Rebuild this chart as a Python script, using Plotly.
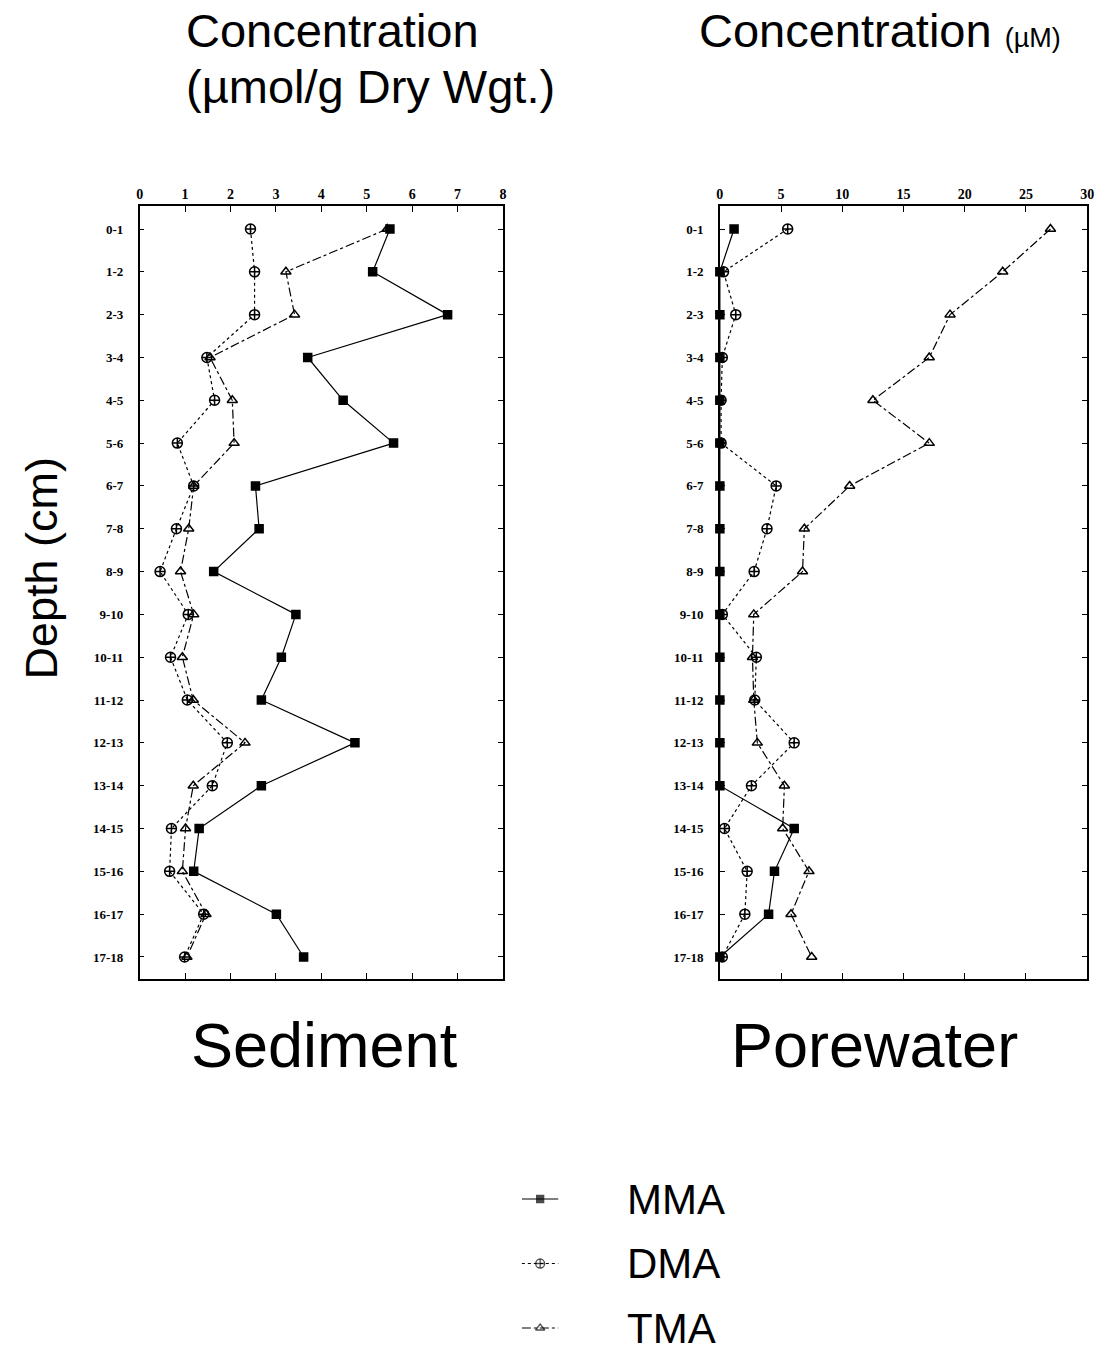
import plotly.graph_objects as go

# Depth intervals (cm)
depth = ["0-1", "1-2", "2-3", "3-4", "4-5", "5-6", "6-7", "7-8", "8-9",
         "9-10", "10-11", "11-12", "12-13", "13-14", "14-15", "15-16", "16-17", "17-18"]

# Sediment concentrations (umol/g dry weight)
sed_mma = [5.51, 5.13, 6.78, 3.70, 4.48, 5.59, 2.55, 2.63, 1.63, 3.44, 3.12, 2.68, 4.74, 2.68, 1.31, 1.19, 3.01, 3.61]
sed_dma = [2.44, 2.53, 2.53, 1.48, 1.65, 0.83, 1.19, 0.81, 0.45, 1.07, 0.68, 1.05, 1.93, 1.60, 0.70, 0.66, 1.41, 0.99]
sed_tma = [5.45, 3.22, 3.41, 1.55, 2.04, 2.08, 1.19, 1.08, 0.90, 1.19, 0.94, 1.18, 2.32, 1.18, 1.01, 0.94, 1.46, 1.04]

# Porewater concentrations (uM)
pw_mma = [1.16, 0, 0, 0, 0, 0, 0, 0, 0, 0, 0, 0, 0, 0, 6.07, 4.46, 3.98, 0]
pw_dma = [5.54, 0.3, 1.3, 0.2, 0.1, 0.1, 4.6, 3.85, 2.8, 0.2, 2.98, 2.85, 6.07, 2.58, 0.38, 2.23, 2.04, 0.2]
pw_tma = [27.0, 23.1, 18.8, 17.1, 12.5, 17.1, 10.6, 6.9, 6.75, 2.77, 2.66, 2.77, 3.06, 5.27, 5.13, 7.28, 5.81, 7.5]

species = ["MMA", "DMA", "TMA"]
sed_ticks = [0, 1, 2, 3, 4, 5, 6, 7, 8]
pw_ticks = [0, 5, 10, 15, 20, 25, 30]

W, H = 1114, 1352
styles = {
    "MMA": dict(dash="solid", symbol="square", size=8),
    "DMA": dict(dash="dot", symbol="circle-cross-open", size=10),
    "TMA": dict(dash="dashdot", symbol="triangle-up-open", size=9),
}

fig = go.Figure()

def add_profile(name, xs, xa, ya):
    st = styles[name]
    fig.add_trace(go.Scatter(
        x=xs, y=depth, xaxis=xa, yaxis=ya, mode="lines+markers", name=name,
        showlegend=False, cliponaxis=False,
        line=dict(color="black", width=1.2, dash=st["dash"]),
        marker=dict(symbol=st["symbol"], size=st["size"], color="black",
                    line=dict(color="black", width=1.5)),
    ))

for name, xs in zip(species, [sed_mma, sed_dma, sed_tma]):
    add_profile(name, xs, "x", "y")
for name, xs in zip(species, [pw_mma, pw_dma, pw_tma]):
    add_profile(name, xs, "x2", "y2")

# Legend samples drawn on a hidden helper axis
for i, name in enumerate(species):
    st = styles[name]
    fig.add_trace(go.Scatter(
        x=[0, 0.5, 1], y=[i, i, i], xaxis="x3", yaxis="y3", mode="lines+markers",
        showlegend=False, hoverinfo="skip",
        line=dict(color="black", width=1.2, dash=st["dash"]),
        marker=dict(symbol=st["symbol"], size=[0, st["size"] - 1, 0], color="black",
                    line=dict(color="black", width=1.3)),
    ))

def px_x(p):
    return p / W

def px_y(p):
    return 1 - p / H

tickfont = dict(family="Liberation Serif", size=14, color="black", weight="bold")
ydom = [px_y(979), px_y(206)]
yrange = [17.514, -0.537]

common_x = dict(side="top", showline=True, linecolor="black", linewidth=1.5, mirror="ticks",
                ticks="inside", ticklen=6, tickwidth=1.2, tickcolor="black",
                showgrid=False, zeroline=False, tickfont=tickfont)
common_y = dict(type="category", categoryarray=depth, range=yrange, showline=True,
                linecolor="black", linewidth=1.5, mirror="ticks", ticks="inside",
                ticklen=5, tickwidth=1.2, tickcolor="black", showgrid=False,
                zeroline=False, tickfont=dict(tickfont, size=13), ticklabelstandoff=12)

fig.update_layout(
    width=W, height=H, margin=dict(l=0, r=0, t=0, b=0),
    paper_bgcolor="white", plot_bgcolor="white",
    xaxis=dict(common_x, domain=[px_x(137), px_x(504)], range=[0, 8], tickvals=sed_ticks, anchor="y"),
    yaxis=dict(common_y, domain=ydom, anchor="x"),
    xaxis2=dict(common_x, domain=[px_x(723), px_x(1094)], range=[0, 30], tickvals=pw_ticks, anchor="y2"),
    yaxis2=dict(common_y, domain=ydom, anchor="x2"),
    xaxis3=dict(domain=[px_x(523), px_x(560)], range=[0, 1], visible=False, anchor="y3"),
    yaxis3=dict(domain=[0, px_y(1170)], range=[2.372, -0.45], visible=False, anchor="x3"),
)

sans = "Liberation Sans, Arial, sans-serif"
ann = []
ann.append(dict(text="Concentration", x=px_x(182), y=px_y(31), xref="paper", yref="paper",
                xanchor="left", yanchor="middle", showarrow=False,
                font=dict(family=sans, size=47, color="black")))
ann.append(dict(text="(µmol/g Dry Wgt.)", x=px_x(182), y=px_y(86), xref="paper", yref="paper",
                xanchor="left", yanchor="middle", showarrow=False,
                font=dict(family=sans, size=47, color="black")))
ann.append(dict(text="Concentration <span style='font-size:27px'>(µM)</span>", x=px_x(700), y=px_y(31),
                xref="paper", yref="paper", xanchor="left", yanchor="middle", showarrow=False,
                font=dict(family=sans, size=47, color="black")))
ann.append(dict(text="Depth (cm)", x=px_x(38), y=px_y(568), xref="paper", yref="paper",
                xanchor="center", yanchor="middle", textangle=-90, showarrow=False,
                font=dict(family=sans, size=45, color="black")))
ann.append(dict(text="Sediment", x=px_x(324), y=px_y(1045), xref="paper", yref="paper",
                xanchor="center", yanchor="middle", showarrow=False,
                font=dict(family=sans, size=63, color="black")))
ann.append(dict(text="Porewater", x=px_x(879), y=px_y(1045), xref="paper", yref="paper",
                xanchor="center", yanchor="middle", showarrow=False,
                font=dict(family=sans, size=63, color="black")))
for i, name in enumerate(species):
    ann.append(dict(text=name, x=px_x(627), y=i, xref="paper", yref="y3",
                    xanchor="left", yanchor="middle", showarrow=False,
                    font=dict(family=sans, size=42, color="black")))
fig.update_layout(annotations=ann)

fig.write_html("out.html")
